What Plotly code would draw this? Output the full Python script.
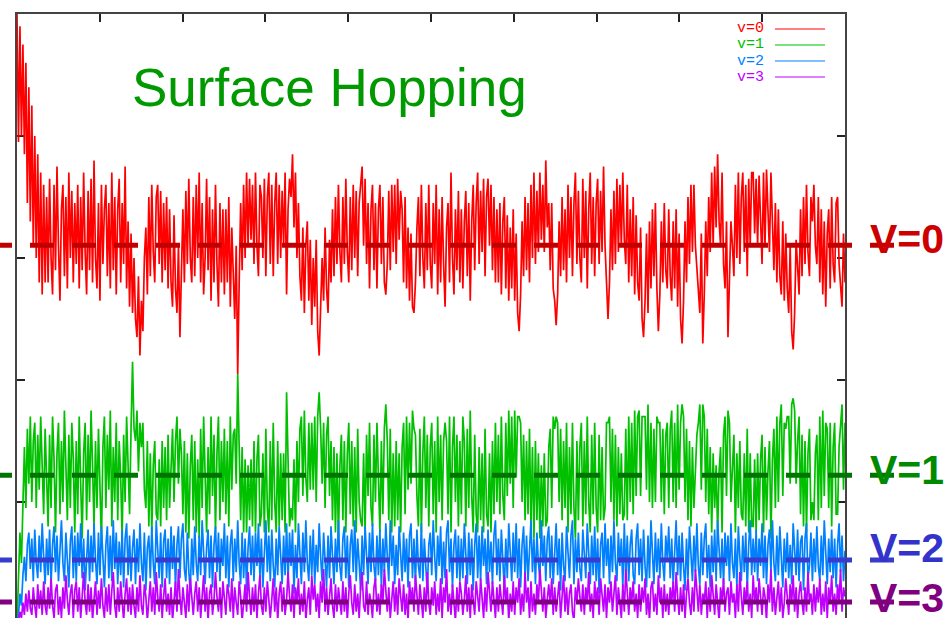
import plotly.graph_objects as go

# Populations of vibrational levels v=0..3 along the trajectory (units of 1/1000)
pop_v0 = [
    1000, 790, 980, 800, 950, 770, 920, 690, 880, 660, 850, 620, 800, 600, 770, 560, 740, 540, 720, 560,
    700, 560, 730, 600, 540, 720, 580, 750, 620, 530, 680, 720, 570, 700, 550, 740, 600, 710, 560, 690,
    590, 720, 550, 700, 580, 740, 610, 540, 710, 580, 730, 560, 760, 600, 550, 690, 530, 720, 590, 680,
    720, 570, 690, 550, 740, 580, 700, 540, 680, 730, 560, 690, 590, 750, 550, 660, 520, 640, 510, 600,
    500, 470, 570, 440, 530, 480, 600, 650, 540, 700, 570, 720, 610, 560, 700, 720, 590, 710, 560, 690,
    580, 700, 550, 680, 560, 520, 670, 550, 510, 620, 470, 560, 680, 560, 710, 590, 730, 600, 560, 700,
    570, 720, 600, 740, 560, 690, 540, 600, 730, 580, 700, 530, 680, 560, 720, 590, 520, 690, 560, 680,
    540, 680, 560, 700, 520, 650, 560, 500, 620, 410, 560, 690, 580, 720, 600, 740, 620, 730, 630, 720,
    590, 740, 620, 570, 720, 700, 600, 730, 570, 700, 740, 590, 720, 570, 690, 740, 590, 720, 600, 710,
    620, 740, 540, 680, 730, 700, 770, 650, 740, 600, 690, 570, 530, 650, 510, 620, 660, 530, 630, 490,
    600, 520, 630, 480, 440, 510, 600, 530, 650, 550, 510, 630, 560, 680, 570, 700, 590, 720, 610, 560,
    700, 590, 730, 610, 560, 700, 580, 720, 600, 710, 570, 690, 720, 750, 620, 730, 590, 690, 550, 680,
    720, 580, 690, 550, 680, 720, 590, 700, 560, 540, 590, 710, 580, 720, 610, 720, 590, 730, 630, 710,
    680, 560, 700, 550, 650, 530, 640, 520, 510, 560, 650, 700, 570, 720, 600, 550, 690, 580, 720, 590,
    550, 690, 590, 720, 540, 680, 560, 700, 590, 520, 650, 690, 560, 740, 600, 540, 680, 580, 710, 560,
    680, 550, 660, 710, 570, 690, 530, 660, 720, 580, 690, 740, 590, 710, 610, 730, 570, 700, 730, 620,
    720, 580, 700, 560, 680, 560, 690, 540, 660, 700, 550, 670, 530, 650, 550, 680, 530, 640, 510, 480,
    540, 660, 570, 700, 580, 690, 560, 720, 600, 740, 590, 710, 610, 740, 630, 720, 610, 760, 650, 690,
    580, 690, 550, 530, 490, 540, 660, 570, 700, 580, 680, 560, 720, 600, 700, 570, 690, 740, 590, 710,
    600, 560, 730, 600, 710, 550, 680, 740, 590, 700, 570, 690, 730, 590, 710, 610, 750, 620, 560, 500,
    560, 680, 580, 710, 590, 730, 610, 720, 620, 740, 630, 590, 720, 560, 680, 570, 700, 540, 670, 560,
    530, 650, 500, 470, 530, 640, 510, 660, 550, 680, 570, 690, 550, 480, 540, 660, 560, 690, 580, 550,
    680, 570, 530, 660, 550, 680, 520, 640, 500, 460, 530, 660, 560, 700, 590, 720, 610, 720, 620, 580,
    550, 510, 640, 460, 540, 660, 570, 700, 610, 740, 620, 750, 650, 770, 660, 620, 740, 590, 550, 660,
    470, 550, 660, 620, 570, 720, 600, 740, 590, 700, 740, 610, 720, 570, 730, 620, 740, 740, 640, 730,
    620, 735, 650, 590, 740, 620, 745, 660, 610, 740, 640, 580, 690, 560, 680, 570, 540, 660, 530, 640,
    550, 510, 620, 480, 450, 510, 630, 580, 540, 680, 570, 700, 590, 720, 610, 570, 700, 660, 720, 620,
    590, 700, 560, 680, 540, 660, 520, 640, 680, 550, 700, 590, 560, 690, 700, 590, 550, 520, 640, 560,
]

pop_v1 = [
    0, 60, 150, 100, 220, 290, 190, 320, 230, 340, 200, 300, 330, 190, 310, 220, 340, 250, 180, 320,
    220, 160, 310, 190, 340, 270, 150, 280, 330, 180, 300, 200, 350, 240, 170, 310, 190, 330, 270, 150,
    300, 180, 340, 230, 140, 280, 330, 170, 310, 200, 350, 260, 160, 300, 190, 320, 230, 130, 290, 340,
    190, 310, 220, 350, 160, 290, 200, 330, 170, 300, 240, 140, 310, 200, 340, 260, 180, 320, 430, 320,
    300, 350, 250, 330, 290, 330, 220, 190, 300, 160, 280, 150, 260, 300, 180, 170, 270, 160, 300, 190,
    290, 170, 310, 190, 270, 320, 200, 300, 340, 230, 320, 280, 180, 300, 150, 280, 140, 260, 310, 170,
    300, 150, 270, 140, 320, 190, 340, 230, 150, 290, 180, 340, 210, 310, 150, 280, 340, 170, 300, 200,
    320, 180, 300, 160, 340, 220, 310, 320, 230, 410, 290, 170, 290, 150, 270, 150, 260, 170, 270, 160,
    300, 150, 270, 310, 160, 180, 280, 150, 320, 190, 150, 300, 170, 330, 200, 150, 300, 160, 280, 170,
    280, 150, 380, 290, 160, 190, 170, 270, 150, 300, 200, 320, 340, 210, 350, 240, 200, 330, 220, 330,
    220, 340, 200, 340, 380, 320, 230, 330, 190, 310, 340, 210, 300, 170, 290, 150, 280, 140, 260, 310,
    170, 300, 150, 280, 330, 180, 300, 160, 290, 150, 320, 200, 170, 160, 280, 150, 310, 210, 330, 190,
    160, 310, 200, 330, 210, 150, 300, 180, 320, 360, 300, 170, 320, 150, 280, 160, 300, 170, 280, 150,
    290, 330, 180, 340, 220, 330, 230, 350, 320, 310, 210, 160, 320, 150, 280, 340, 190, 310, 160, 290,
    330, 180, 300, 150, 340, 200, 310, 170, 300, 330, 300, 180, 340, 150, 290, 340, 200, 310, 160, 300,
    180, 340, 300, 160, 320, 190, 350, 210, 150, 310, 180, 150, 290, 170, 280, 150, 320, 180, 160, 280,
    150, 300, 180, 330, 200, 310, 180, 340, 210, 170, 330, 210, 350, 230, 340, 190, 350, 240, 340, 340,
    330, 200, 310, 170, 300, 180, 320, 160, 290, 140, 300, 170, 280, 140, 260, 160, 280, 160, 170, 290,
    320, 190, 340, 320, 340, 330, 200, 320, 170, 300, 190, 330, 150, 290, 180, 330, 190, 140, 300, 170,
    290, 330, 160, 300, 180, 340, 200, 150, 310, 180, 330, 190, 150, 310, 170, 290, 170, 190, 330, 330,
    340, 200, 320, 170, 310, 160, 290, 180, 280, 170, 180, 320, 170, 340, 200, 330, 180, 350, 210, 340,
    350, 210, 340, 340, 340, 220, 360, 200, 330, 190, 320, 200, 340, 330, 330, 200, 320, 180, 310, 330,
    190, 320, 350, 200, 330, 190, 360, 220, 330, 360, 340, 200, 320, 170, 300, 160, 290, 190, 270, 310,
    330, 360, 220, 360, 340, 200, 320, 180, 290, 150, 280, 190, 260, 150, 250, 290, 150, 310, 340, 210,
    350, 330, 200, 270, 310, 150, 280, 190, 300, 180, 170, 280, 160, 320, 150, 280, 160, 160, 270, 150,
    280, 170, 270, 310, 150, 290, 170, 250, 300, 140, 270, 320, 190, 340, 200, 330, 360, 210, 330, 320,
    340, 340, 230, 360, 370, 350, 230, 300, 340, 180, 310, 160, 300, 150, 280, 320, 170, 200, 170, 280,
    310, 170, 340, 190, 350, 210, 330, 320, 190, 330, 160, 290, 330, 180, 180, 290, 330, 360, 220, 330,
]

pop_v2 = [
    0, 15, 50, 30, 80, 110, 70, 130, 150, 90, 140, 70, 155, 100, 75, 145, 85, 165, 110, 65,
    140, 80, 155, 65, 130, 160, 85, 145, 70, 120, 170, 100, 70, 150, 90, 60, 135, 160, 75, 145,
    70, 150, 95, 165, 75, 140, 55, 120, 155, 70, 145, 85, 165, 105, 65, 150, 80, 160, 100, 60,
    130, 160, 75, 145, 70, 170, 90, 150, 65, 135, 80, 155, 60, 140, 165, 80, 145, 70, 125, 155,
    65, 140, 85, 165, 100, 70, 150, 55, 125, 145, 75, 160, 100, 65, 170, 110, 75, 150, 60, 135,
    155, 75, 140, 65, 160, 90, 145, 60, 130, 160, 75, 140, 165, 90, 70, 150, 85, 55, 140, 80,
    160, 100, 70, 145, 80, 170, 110, 65, 125, 155, 75, 145, 60, 130, 160, 85, 150, 70, 140, 95,
    165, 75, 145, 60, 130, 155, 70, 140, 85, 170, 100, 65, 150, 75, 140, 55, 125, 160, 80, 145,
    70, 150, 95, 165, 75, 140, 60, 130, 170, 85, 145, 70, 155, 95, 60, 140, 80, 160, 105, 65,
    145, 80, 165, 70, 150, 95, 155, 50, 130, 75, 165, 110, 65, 150, 85, 170, 100, 70, 145, 80,
    155, 65, 130, 85, 165, 110, 70, 150, 95, 60, 145, 75, 160, 105, 65, 140, 85, 170, 95, 70,
    140, 160, 75, 145, 60, 130, 155, 85, 170, 70, 140, 100, 55, 145, 80, 160, 110, 65, 150, 85,
    165, 95, 70, 145, 80, 155, 60, 140, 85, 165, 110, 70, 170, 95, 145, 65, 130, 80, 160, 110,
    70, 150, 85, 140, 60, 145, 165, 75, 140, 65, 155, 95, 75, 165, 70, 140, 85, 50, 130, 150,
    80, 170, 110, 70, 145, 95, 160, 65, 135, 75, 150, 170, 85, 140, 60, 130, 155, 75, 145, 70,
    140, 75, 165, 100, 65, 150, 80, 140, 55, 130, 165, 75, 145, 70, 160, 95, 140, 65, 155, 85,
    135, 65, 145, 170, 80, 140, 70, 155, 95, 55, 140, 75, 165, 105, 70, 150, 85, 165, 75, 140,
    60, 130, 160, 75, 145, 70, 120, 170, 85, 140, 65, 150, 100, 75, 170, 95, 145, 70, 140, 160,
    75, 145, 65, 130, 165, 80, 140, 55, 150, 95, 70, 160, 110, 75, 145, 170, 65, 140, 85, 150,
    90, 70, 155, 110, 75, 165, 100, 65, 145, 80, 160, 70, 140, 50, 130, 150, 75, 165, 95, 140,
    65, 145, 85, 170, 100, 70, 150, 95, 140, 60, 165, 75, 145, 70, 130, 155, 80, 65, 140, 165,
    80, 140, 70, 155, 95, 60, 145, 75, 170, 105, 65, 150, 85, 140, 75, 165, 100, 70, 145, 105,
    160, 75, 140, 65, 130, 170, 80, 145, 70, 150, 95, 55, 140, 75, 160, 105, 70, 145, 85, 165,
    95, 65, 150, 80, 140, 165, 75, 130, 60, 145, 85, 155, 70, 170, 110, 75, 140, 65, 150, 95,
    145, 70, 165, 100, 75, 140, 60, 160, 110, 70, 145, 85, 150, 55, 130, 170, 80, 140, 85, 155,
    70, 140, 95, 165, 75, 145, 65, 130, 155, 85, 170, 100, 70, 145, 80, 160, 110, 60, 140, 85,
    150, 75, 130, 65, 165, 110, 80, 155, 70, 135, 145, 55, 140, 165, 75, 95, 150, 70, 140, 85,
    160, 95, 70, 145, 80, 170, 110, 65, 140, 85, 155, 75, 140, 60, 130, 165, 85, 145, 70, 120,
]

pop_v3 = [
    0, 5, 20, 10, 35, 15, 50, 20, 55, 25, 15, 60, 30, 10, 65, 25, 55, 15, 70, 30,
    15, 60, 25, 75, 30, 10, 55, 65, 15, 45, 10, 60, 25, 80, 40, 15, 50, 65, 10, 55,
    70, 20, 60, 10, 45, 85, 35, 15, 65, 20, 60, 5, 40, 70, 15, 55, 25, 75, 30, 10,
    60, 20, 65, 15, 55, 85, 30, 10, 60, 20, 70, 35, 5, 50, 75, 20, 60, 15, 65, 30,
    10, 60, 20, 80, 30, 15, 65, 45, 5, 40, 70, 20, 60, 15, 85, 45, 20, 65, 10, 45,
    75, 20, 50, 15, 60, 5, 40, 70, 20, 90, 45, 15, 60, 30, 10, 65, 20, 75, 35, 15,
    50, 70, 20, 60, 10, 40, 80, 20, 60, 5, 50, 65, 15, 40, 85, 45, 20, 60, 10, 70,
    40, 15, 65, 50, 20, 75, 10, 60, 35, 15, 70, 45, 5, 40, 65, 20, 85, 45, 15, 60,
    20, 65, 10, 50, 80, 30, 15, 60, 20, 70, 45, 10, 40, 75, 20, 60, 5, 50, 70, 20,
    60, 15, 40, 85, 45, 20, 65, 10, 60, 35, 75, 15, 50, 20, 70, 5, 40, 60, 15, 80,
    40, 65, 20, 50, 10, 70, 35, 90, 20, 60, 15, 50, 75, 30, 10, 65, 20, 60, 35, 15,
    70, 20, 60, 5, 50, 80, 35, 15, 65, 20, 50, 10, 60, 85, 30, 20, 70, 15, 50, 35,
    10, 60, 75, 20, 50, 15, 65, 35, 90, 45, 20, 60, 10, 40, 70, 20, 60, 15, 75, 45,
    20, 65, 15, 50, 5, 70, 35, 60, 20, 80, 45, 15, 65, 35, 10, 60, 20, 85, 35, 15,
    60, 30, 70, 15, 50, 20, 75, 10, 60, 35, 90, 20, 50, 15, 65, 35, 5, 60, 20, 70,
    50, 15, 40, 80, 20, 60, 10, 65, 35, 15, 70, 45, 20, 75, 35, 10, 60, 20, 85, 45,
    20, 70, 35, 10, 60, 20, 65, 45, 15, 80, 35, 60, 5, 50, 20, 70, 15, 60, 35, 75,
    15, 50, 20, 85, 35, 60, 10, 70, 20, 50, 15, 65, 35, 90, 45, 20, 60, 10, 40, 65,
    35, 75, 15, 60, 20, 50, 70, 10, 40, 80, 20, 60, 15, 50, 65, 20, 5, 60, 35, 75,
    45, 20, 65, 15, 60, 35, 85, 20, 50, 10, 70, 35, 60, 15, 75, 45, 20, 65, 10, 60,
    35, 70, 20, 50, 80, 15, 60, 35, 10, 65, 20, 90, 45, 15, 60, 35, 70, 20, 50, 10,
    65, 20, 60, 35, 75, 15, 50, 5, 60, 70, 20, 50, 15, 80, 35, 60, 10, 65, 20, 50,
    15, 60, 35, 70, 20, 85, 45, 15, 60, 20, 65, 10, 50, 75, 35, 15, 60, 20, 90, 45,
    20, 65, 15, 50, 35, 70, 10, 60, 20, 80, 45, 15, 65, 35, 5, 60, 35, 75, 20, 50,
    60, 15, 70, 35, 50, 10, 65, 20, 85, 45, 15, 60, 35, 70, 20, 50, 10, 80, 35, 60,
    20, 75, 35, 15, 60, 45, 5, 65, 35, 90, 20, 60, 15, 50, 70, 20, 60, 10, 35, 75,
    50, 15, 65, 35, 80, 20, 60, 10, 50, 70, 35, 15, 60, 20, 85, 35, 50, 15, 65, 20,
    60, 35, 75, 15, 50, 20, 70, 10, 60, 35, 80, 20, 50, 15, 65, 35, 90, 20, 60, 45,
]

series_names = ["v=0", "v=1", "v=2", "v=3"]
series_colors = ["#ff0000", "#00c000", "#0080ff", "#c000ff"]

# Equilibrium (Boltzmann) populations drawn as dashed reference lines
eq_pop = [0.621, 0.244, 0.105, 0.036]
eq_labels = ["V=0", "V=1", "V=2", "V=3"]
eq_line_colors = ["#c00000", "#007400", "#3a3acc", "#800080"]
eq_text_colors = ["#cc0000", "#008a00", "#3333cc", "#800080"]

T_END = 10.0
Y_MIN, Y_MAX = 0.0098, 1.0

# Page geometry (pixels)
W, H = 948, 618
L, R, T, B = 17, 845, 14, 618


def px_x(px):
    return (px - L) / (R - L)


def px_y(py):
    return (B - py) / (B - T)


def val_y(v):
    return (v - Y_MIN) / (Y_MAX - Y_MIN)


fig = go.Figure()
for name, vals, color in zip(series_names, [pop_v0, pop_v1, pop_v2, pop_v3], series_colors):
    n = len(vals)
    t = [T_END * i / (n - 1) for i in range(n)]
    fig.add_trace(go.Scatter(
        x=t, y=[v / 1000 for v in vals], mode="lines", name=name,
        line=dict(color=color, width=1.7), showlegend=False, hoverinfo="skip",
    ))

shapes = []
annotations = []

# Dashed equilibrium lines, running past the frame on both sides
label_dy = [-6, -5, -12, -4]
for pop, lab, lc, tc, dy in zip(eq_pop, eq_labels, eq_line_colors, eq_text_colors, label_dy):
    yp = val_y(pop)
    shapes.append(dict(type="line", xref="paper", yref="paper",
                       x0=px_x(-12), x1=px_x(894), y0=yp, y1=yp,
                       line=dict(color=lc, width=5, dash="24px,18px"), layer="above"))
    py_line = B - yp * (B - T)
    annotations.append(dict(text=lab, xref="paper", yref="paper",
                            x=px_x(868), y=px_y(py_line + dy),
                            xanchor="left", yanchor="middle", showarrow=False,
                            font=dict(family="Liberation Sans, Arial, sans-serif",
                                      size=41, color=tc, weight="bold")))

# Key in the upper right corner: label then line sample
key_rows = [29, 45, 61, 77]
for name, color, py in zip(series_names, series_colors, key_rows):
    annotations.append(dict(text=name, xref="paper", yref="paper",
                            x=px_x(766), y=px_y(py), xanchor="right", yanchor="middle",
                            showarrow=False,
                            font=dict(family="Liberation Mono, DejaVu Sans Mono, monospace",
                                      size=15, color=color)))
    shapes.append(dict(type="line", xref="paper", yref="paper",
                       x0=px_x(775), x1=px_x(825), y0=px_y(py), y1=px_y(py),
                       line=dict(color=color, width=1.2), layer="above"))

annotations.append(dict(text="Surface Hopping", xref="paper", yref="paper",
                        x=px_x(130), y=px_y(87), xanchor="left", yanchor="middle",
                        showarrow=False,
                        font=dict(family="Liberation Sans, Arial, sans-serif",
                                  size=53, color="#009900")))

axis_common = dict(showgrid=False, zeroline=False, showticklabels=False,
                   showline=True, linecolor="#444444", linewidth=2,
                   ticks="inside", ticklen=8, tickwidth=1.5, tickcolor="#222222",
                   layer="below traces")

fig.update_layout(
    width=W, height=H,
    margin=dict(l=L, r=W - R, t=T, b=H - B, pad=0),
    paper_bgcolor="white", plot_bgcolor="white",
    xaxis=dict(range=[0, T_END], dtick=1, side="top", mirror=False, **axis_common),
    yaxis=dict(range=[Y_MIN, Y_MAX], dtick=0.2, mirror="ticks", **axis_common),
    shapes=shapes, annotations=annotations,
    showlegend=False,
)

fig.write_html("out.html")
